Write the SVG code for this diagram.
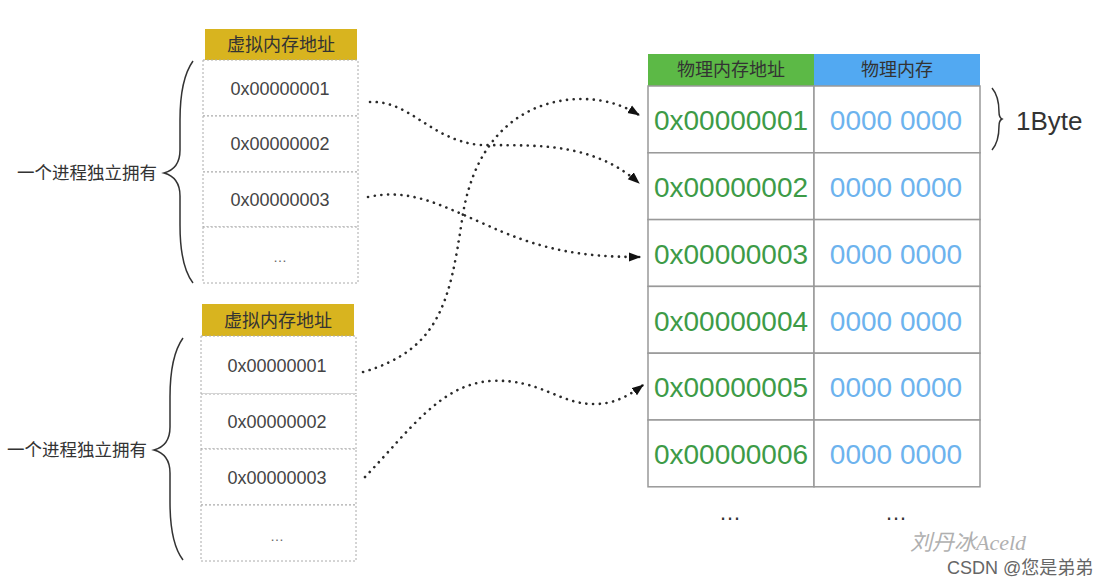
<svg xmlns="http://www.w3.org/2000/svg" width="1114" height="582" viewBox="0 0 1114 582">
<style>
  text { font-family: "Liberation Sans", "Noto Sans CJK SC", sans-serif; }
  .hdr { font-size: 18px; fill: #333; text-anchor: middle; }
  .vcell { fill: #fff; stroke: #aaa; stroke-width: 1; stroke-dasharray: 2 2; }
  .vtxt { font-size: 18px; fill: #444; text-anchor: middle; }
  .pcell { fill: #fff; stroke: #999; stroke-width: 1.5; }
  .ptxt { font-size: 28px; fill: #3d9b47; text-anchor: middle; }
  .btxt { font-size: 28px; fill: #6db3ee; text-anchor: middle; }
  .brace { fill: none; stroke: #333; stroke-width: 1.5; }
  .lbl { font-size: 17.5px; fill: #333; }
  .conn { fill: none; stroke: #2a2a2a; stroke-width: 2.6; stroke-linecap: round; stroke-dasharray: 0.1 6.6; marker-end: url(#arr); }
</style>
<defs>
  <marker id="arr" viewBox="0 0 12 10" refX="11" refY="5" markerWidth="12" markerHeight="10" markerUnits="userSpaceOnUse" orient="auto">
    <path d="M0,0.5 L12,5 L0,9.5 z" fill="#111" stroke="none"/>
  </marker>
</defs>

<!-- Top virtual table -->
<g id="vtable1">
  <rect x="205" y="29" width="152" height="31" fill="#d8b41f"/>
  <text class="hdr" x="281" y="51">虚拟内存地址</text>
  <rect class="vcell" x="203" y="60" width="155" height="56"/>
  <rect class="vcell" x="203" y="116" width="155" height="56"/>
  <rect class="vcell" x="203" y="172" width="155" height="55"/>
  <rect class="vcell" x="203" y="227" width="155" height="56"/>
  <text class="vtxt" x="280" y="95">0x00000001</text>
  <text class="vtxt" x="280" y="150">0x00000002</text>
  <text class="vtxt" x="280" y="206">0x00000003</text>
  <text class="vtxt" x="280" y="262" style="font-size:14px;fill:#666">…</text>
</g>
<g id="brace1">
  <path class="brace" d="M193,61 C183,75 180,95 180,120 L180,150 C180,163 175,170 164,173 C175,176 180,183 180,196 L180,225 C180,250 183,270 193,283"/>
  <text class="lbl" x="17" y="179">一个进程独立拥有</text>
</g>

<!-- Bottom virtual table -->
<g id="vtable2">
  <rect x="202" y="304" width="152" height="32" fill="#d8b41f"/>
  <text class="hdr" x="278" y="327">虚拟内存地址</text>
  <rect class="vcell" x="201" y="336" width="155" height="58"/>
  <rect class="vcell" x="201" y="394" width="155" height="55"/>
  <rect class="vcell" x="201" y="449" width="155" height="56"/>
  <rect class="vcell" x="201" y="505" width="155" height="56"/>
  <text class="vtxt" x="277" y="372">0x00000001</text>
  <text class="vtxt" x="277" y="428">0x00000002</text>
  <text class="vtxt" x="277" y="484">0x00000003</text>
  <text class="vtxt" x="277" y="541" style="font-size:14px;fill:#666">…</text>
</g>
<g id="brace2">
  <path class="brace" d="M183,338 C173,352 170,372 170,397 L170,427 C170,440 165,447 154,450 C165,453 170,460 170,473 L170,502 C170,527 173,547 183,560"/>
  <text class="lbl" x="7" y="456">一个进程独立拥有</text>
</g>

<!-- Physical table -->
<g id="ptable">
  <rect x="648" y="54" width="166" height="32" fill="#5cb946"/>
  <rect x="814" y="54" width="166" height="32" fill="#52a9f2"/>
  <text class="hdr" x="731" y="76">物理内存地址</text>
  <text class="hdr" x="897" y="76">物理内存</text>
  <rect class="pcell" x="648" y="86" width="166" height="66.8"/>
  <rect class="pcell" x="814" y="86" width="166" height="66.8"/>
  <rect class="pcell" x="648" y="152.8" width="166" height="66.8"/>
  <rect class="pcell" x="814" y="152.8" width="166" height="66.8"/>
  <rect class="pcell" x="648" y="219.6" width="166" height="66.8"/>
  <rect class="pcell" x="814" y="219.6" width="166" height="66.8"/>
  <rect class="pcell" x="648" y="286.4" width="166" height="66.8"/>
  <rect class="pcell" x="814" y="286.4" width="166" height="66.8"/>
  <rect class="pcell" x="648" y="353.2" width="166" height="66.8"/>
  <rect class="pcell" x="814" y="353.2" width="166" height="66.8"/>
  <rect class="pcell" x="648" y="420" width="166" height="66.8"/>
  <rect class="pcell" x="814" y="420" width="166" height="66.8"/>
  <text class="ptxt" x="731" y="130">0x00000001</text>
  <text class="ptxt" x="731" y="197">0x00000002</text>
  <text class="ptxt" x="731" y="263.5">0x00000003</text>
  <text class="ptxt" x="731" y="330.5">0x00000004</text>
  <text class="ptxt" x="731" y="397">0x00000005</text>
  <text class="ptxt" x="731" y="464">0x00000006</text>
  <text class="btxt" x="896" y="130">0000 0000</text>
  <text class="btxt" x="896" y="197">0000 0000</text>
  <text class="btxt" x="896" y="263.5">0000 0000</text>
  <text class="btxt" x="896" y="330.5">0000 0000</text>
  <text class="btxt" x="896" y="397">0000 0000</text>
  <text class="btxt" x="896" y="464">0000 0000</text>
  <text x="731" y="520" style="font-size:22px;fill:#333;text-anchor:middle;letter-spacing:2px">…</text>
  <text x="897" y="520" style="font-size:22px;fill:#333;text-anchor:middle;letter-spacing:2px">…</text>
</g>

<g id="byte">
  <path class="brace" d="M992,88 C998,95 999,105 999,112 C999,116 1000,118 1002,119 C1000,120 999,122 999,126 C999,134 998,143 992,150"/>
  <text x="1016" y="130" style="font-size:26px;fill:#333">1Byte</text>
</g>

<!-- Connectors -->
<g id="connectors">
  <path class="conn" d="M370,102 C410,100 430,140 480,145 C530,146 590,140 639,183"/>
  <path class="conn" d="M368,197 C410,188 440,205 480,222 C540,250 580,257 640,257"/>
  <path class="conn" d="M363,372 C440,350 450,300 462,220 C475,130 530,98 585,99 C610,100 626,107 639,115"/>
  <path class="conn" d="M365,477 C410,430 440,385 490,381 C540,378 560,405 595,404 C615,404 630,395 643,385"/>
</g>

<g id="watermark">
  <text x="910" y="550" style="font-family:'Liberation Serif','Noto Sans CJK SC',serif;font-style:italic;font-size:22px;fill:#b0b0b0">刘丹冰Aceld</text>
  <text x="947" y="574" style="font-size:18px;fill:#666">CSDN @您是弟弟</text>
</g>
</svg>
